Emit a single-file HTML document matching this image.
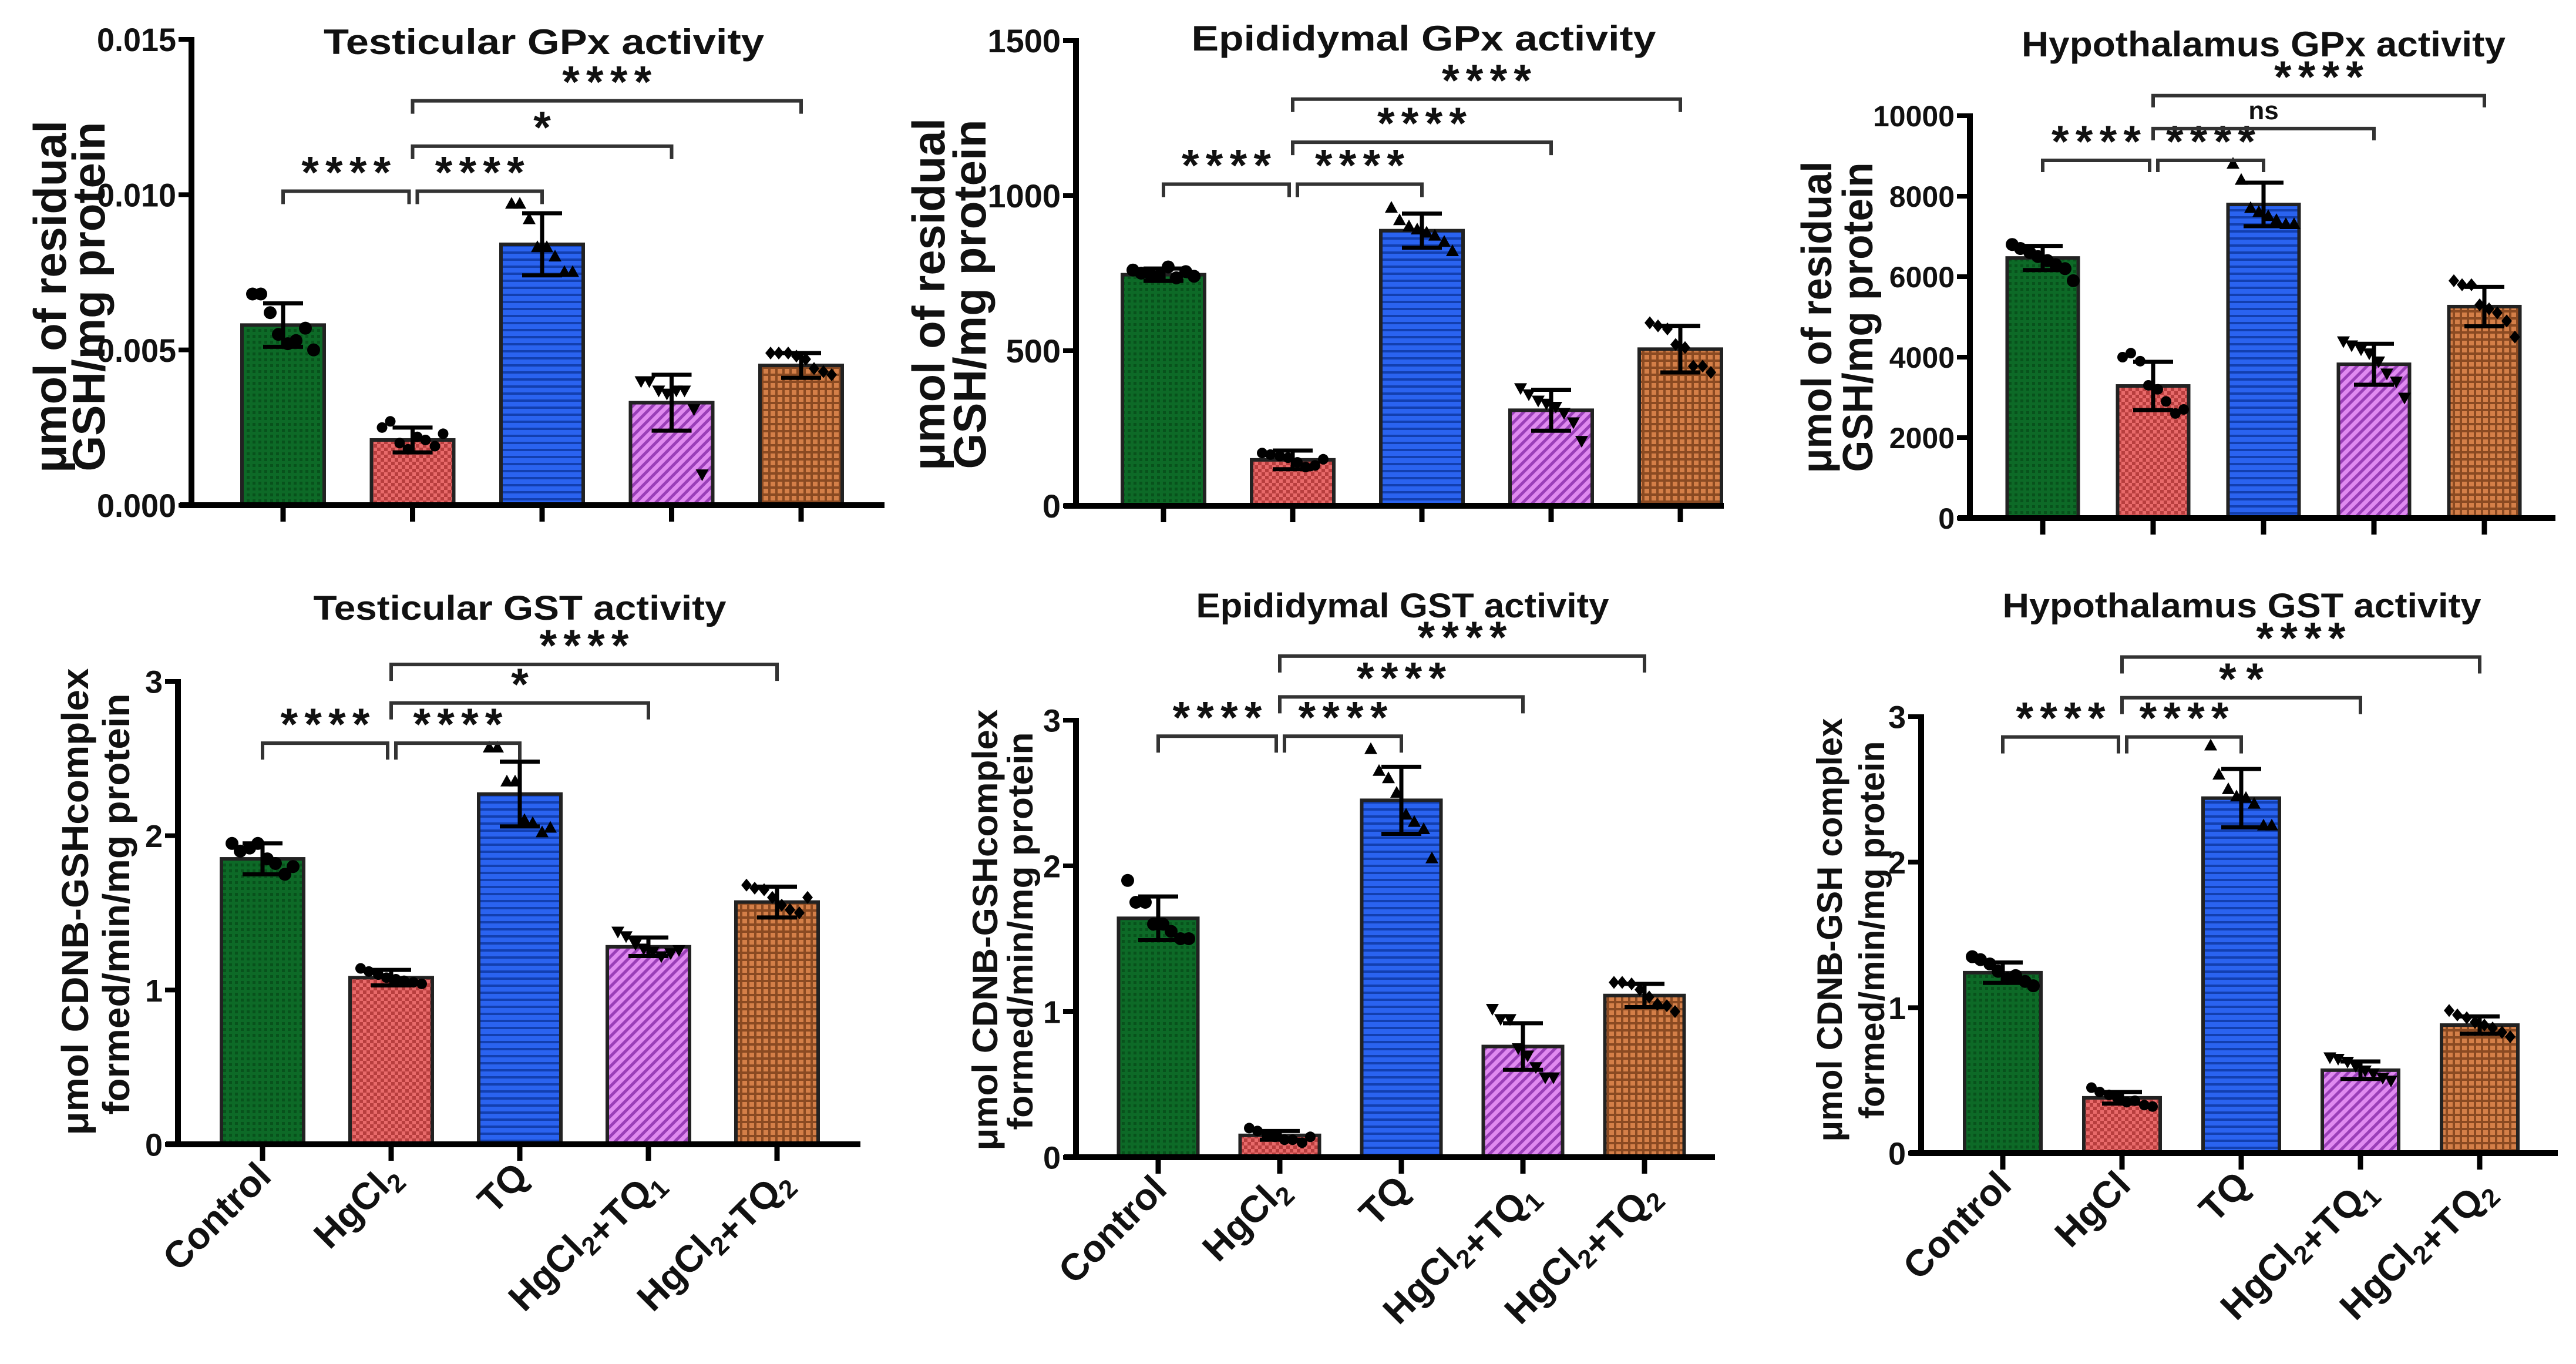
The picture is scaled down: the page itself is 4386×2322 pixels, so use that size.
<!DOCTYPE html>
<html><head><meta charset="utf-8">
<style>
html,body{margin:0;padding:0;background:#fff;}
svg{display:block;}
text{font-family:"Liberation Sans",sans-serif;font-weight:bold;fill:#111;}
</style></head>
<body>
<svg id="fig" width="4386" height="2322" viewBox="0 0 4386 2322" xmlns="http://www.w3.org/2000/svg">
<defs>
<pattern id="pg" width="10" height="10" patternUnits="userSpaceOnUse"><rect width="10" height="10" fill="#0d6a27"/><rect width="5" height="5" fill="#08521c"/></pattern>
<pattern id="pr" width="12" height="12" patternUnits="userSpaceOnUse"><rect width="12" height="12" fill="#e86a6a"/><rect width="6" height="6" fill="#b83e3e"/><rect x="6" y="6" width="6" height="6" fill="#b83e3e"/></pattern>
<pattern id="pb" width="14" height="12" patternUnits="userSpaceOnUse"><rect width="14" height="12" fill="#2a63f0"/><rect y="8" width="14" height="4" fill="#123fb0"/></pattern>
<pattern id="pp" width="12" height="12" patternUnits="userSpaceOnUse" patternTransform="rotate(45)"><rect width="12" height="12" fill="#e08af0"/><rect width="5" height="12" fill="#9a3fb8"/></pattern>
<pattern id="po" width="12" height="12" patternUnits="userSpaceOnUse"><rect width="12" height="12" fill="#d47f48"/><rect width="12" height="4" fill="#8a4a22"/><rect width="4" height="12" fill="#8a4a22"/></pattern>
</defs>
</svg>
<script>
// ---- data ----
const groups = ["Control","HgCl2","TQ","HgCl2+TQ1","HgCl2+TQ2"];
const tgpxMeans = [0.0058,0.0021,0.0084,0.0033,0.0045];
const tgpxSD = [0.0007,0.0004,0.0010,0.0009,0.0004];
const tgpxPts = [[0.0068,0.0068,0.0062,0.0055,0.0052,0.0053,0.0057,0.0050],[0.0025,0.0027,0.0020,0.0018,0.0022,0.0021,0.0019,0.0023],[0.0097,0.0097,0.0092,0.0083,0.0083,0.0080,0.0075,0.0075],[0.0040,0.0040,0.0037,0.0036,0.0037,0.0037,0.0031,0.0010],[0.0049,0.0049,0.0049,0.0048,0.0047,0.0044,0.0043,0.0042]];
const tgpxTicks = [0,0.005,0.010,0.015];
const tgpxTickLabels = ["0.000","0.005","0.010","0.015"];
const tgpxBrackets = [0.01011,0.01156,0.01302];
const tgpxSig = ["****","****","*","****"];

const egpxMeans = [745,148,887,308,505];
const egpxSD = [20,30,55,66,75];
const egpxPts = [[760,750,745,740,770,735,755,740],[170,165,160,155,140,125,130,150],[960,920,900,890,880,870,850,820],[380,360,340,330,320,300,270,210],[590,580,570,520,510,450,450,430]];
const egpxTicks = [0,500,1000,1500];
const egpxTickLabels = ["0","500","1000","1500"];
const egpxBrackets = [1037,1172,1311];
const egpxSig = ["****","****","****","****"];

const hgpxMeans = [6465,3284,7795,3823,5256];
const hgpxSD = [300,600,540,510,490];
const hgpxPts = [[6800,6700,6600,6500,6400,6300,6200,5900],[4000,4100,3900,3300,3200,2900,2600,2700],[8800,8400,7700,7600,7500,7400,7300,7300],[4400,4300,4200,4100,3900,3600,3400,3000],[5900,5800,5800,5300,5200,5100,4900,4500]];
const hgpxTicks = [0,2000,4000,6000,8000,10000];
const hgpxTickLabels = ["0","2000","4000","6000","8000","10000"];
const hgpxBrackets = [8891,9680,10500];
const hgpxSig = ["****","****","ns","****"];

const tgstMeans = [1.85,1.08,2.27,1.28,1.57];
const tgstSD = [0.10,0.05,0.21,0.06,0.10];
const tgstPts = [[1.95,1.90,1.92,1.95,1.85,1.82,1.75,1.80],[1.14,1.12,1.10,1.08,1.07,1.06,1.05,1.04],[2.57,2.57,2.35,2.35,2.10,2.08,2.02,2.05],[1.38,1.35,1.30,1.27,1.25,1.22,1.24,1.26],[1.68,1.66,1.65,1.60,1.55,1.52,1.50,1.60]];
const tgstTicks = [0,1,2,3];
const tgstTickLabels = ["0","1","2","3"];
const tgstBrackets = [2.60,2.86,3.11];
const tgstSig = ["****","****","*","****"];

const egstMeans = [1.64,0.15,2.45,0.76,1.11];
const egstSD = [0.15,0.03,0.23,0.16,0.08];
const egstPts = [[1.90,1.75,1.75,1.60,1.60,1.55,1.50,1.50],[0.20,0.18,0.15,0.14,0.12,0.12,0.10,0.14],[2.80,2.65,2.60,2.50,2.35,2.30,2.25,2.05],[1.02,0.95,0.95,0.75,0.70,0.62,0.55,0.55],[1.20,1.20,1.19,1.15,1.10,1.05,1.04,1.00]];
const egstTicks = [0,1,2,3];
const egstTickLabels = ["0","1","2","3"];
const egstBrackets = [2.89,3.16,3.44];
const egstSig = ["****","****","****","****"];

const hgstMeans = [1.24,0.38,2.44,0.57,0.88];
const hgstSD = [0.07,0.04,0.20,0.06,0.06];
const hgstPts = [[1.35,1.33,1.30,1.25,1.20,1.22,1.18,1.15],[0.45,0.42,0.40,0.38,0.35,0.36,0.33,0.32],[2.80,2.60,2.50,2.45,2.44,2.40,2.25,2.25],[0.66,0.65,0.63,0.60,0.57,0.55,0.52,0.50],[0.98,0.95,0.93,0.90,0.88,0.86,0.83,0.80]];
const hgstTicks = [0,1,2,3];
const hgstTickLabels = ["0","1","2","3"];
const hgstBrackets = [2.86,3.13,3.41];
const hgstSig = ["****","****","**","****"];

// ---- layout ----
const panels = [
 {id:"testicular-gpx",means:tgpxMeans,sd:tgpxSD,pts:tgpxPts,ticks:tgpxTicks,tl:tgpxTickLabels,br:tgpxBrackets,sig:tgpxSig,max:0.015,ax:326,yb:860,yt:67,c0:482,sp:220.5,bw:140,xEnd:1506,
  title:"Testicular GPx activity",tx:926,ty:92,tw:750,tfs:60,tickFs:56,tickW:135,
  yl:[["μmol of residual",112,505,600],["GSH/mg protein",178,505,595]],yfs:78,xlab:false,drop:22},
 {id:"epididymal-gpx",means:egpxMeans,sd:egpxSD,pts:egpxPts,ticks:egpxTicks,tl:egpxTickLabels,br:egpxBrackets,sig:egpxSig,max:1500,ax:1832,yb:861,yt:69,c0:1981,sp:220,bw:140,xEnd:2935,
  title:"Epididymal GPx activity",tx:2424,ty:86,tw:791,tfs:60,tickFs:56,tickW:0,
  yl:[["μmol of residual",1608,501,600],["GSH/mg protein",1678,501,595]],yfs:78,xlab:false,drop:22},
 {id:"hypothalamus-gpx",means:hgpxMeans,sd:hgpxSD,pts:hgpxPts,ticks:hgpxTicks,tl:hgpxTickLabels,br:hgpxBrackets,sig:hgpxSig,max:10000,ax:3354,yb:882,yt:197,c0:3478,sp:188,bw:121,xEnd:4351,
  title:"Hypothalamus GPx activity",tx:3854,ty:96,tw:824,tfs:60,tickFs:50,tickW:0,
  yl:[["μmol of residual",3118,540,531],["GSH/mg protein",3188,540,527]],yfs:72,xlab:false,drop:20},
 {id:"testicular-gst",means:tgstMeans,sd:tgstSD,pts:tgstPts,ticks:tgstTicks,tl:tgstTickLabels,br:tgstBrackets,sig:tgstSig,max:3,ax:303,yb:1948,yt:1160,c0:447,sp:219,bw:140,xEnd:1465,
  title:"Testicular GST activity",tx:885,ty:1055,tw:703,tfs:58,tickFs:54,tickW:0,
  yl:[["μmol CDNB-GSHcomplex",150,1535,795],["formed/min/mg protein",220,1539,717]],yfs:64,xlab:true,hg:"HgCl2",drop:28},
 {id:"epididymal-gst",means:egstMeans,sd:egstSD,pts:egstPts,ticks:egstTicks,tl:egstTickLabels,br:egstBrackets,sig:egstSig,max:3,ax:1832,yb:1970,yt:1226,c0:1972,sp:207,bw:135,xEnd:2920,
  title:"Epididymal GST activity",tx:2388,ty:1051,tw:703,tfs:58,tickFs:54,tickW:0,
  yl:[["μmol CDNB-GSHcomplex",1698,1583,751],["formed/min/mg protein",1758,1585,677]],yfs:60,xlab:true,hg:"HgCl2",drop:28},
 {id:"hypothalamus-gst",means:hgstMeans,sd:hgstSD,pts:hgstPts,ticks:hgstTicks,tl:hgstTickLabels,br:hgstBrackets,sig:hgstSig,max:3,ax:3271,yb:1963,yt:1220,c0:3410,sp:203,bw:130,xEnd:4355,
  title:"Hypothalamus GST activity",tx:3817,ty:1051,tw:815,tfs:58,tickFs:54,tickW:0,
  yl:[["μmol CDNB-GSH complex",3136,1583,721],["formed/min/mg protein",3208,1583,643]],yfs:60,xlab:true,hg:"HgCl",drop:28}
];
const fills = ["url(#pg)","url(#pr)","url(#pb)","url(#pp)","url(#po)"];
const markers = ["circle","circle","tri-up","tri-down","diamond"];
const jit = [-52,-38,-22,-8,8,22,38,52];
const NS = "http://www.w3.org/2000/svg";
const svg = document.getElementById("fig");
function mk(tag, attrs, parent){
  const e = document.createElementNS(NS, tag);
  for (const k in attrs) e.setAttribute(k, attrs[k]);
  (parent||svg).appendChild(e);
  return e;
}
function slug(s){return s.toLowerCase().replace(/[^a-z0-9]+/g,'-').replace(/-+$/,'');}

panels.forEach(p => {
  const g = mk("g", {});
  
  
  const y = v => p.yb - (v / p.max) * (p.yb - p.yt);
  const x = i => p.c0 + i * p.sp;

  const t = mk("text", {x:p.tx, y:p.ty, "text-anchor":"middle", "font-size":p.tfs, textLength:p.tw, lengthAdjust:"spacingAndGlyphs"}, g);
  t.textContent = p.title;
  
  

  p.yl.forEach((l, li) => {
    const yt = mk("text", {x:l[1], y:l[2], transform:`rotate(-90 ${l[1]} ${l[2]})`, "text-anchor":"middle", "font-size":p.yfs, textLength:l[3], lengthAdjust:"spacingAndGlyphs"}, g);
    yt.textContent = l[0];
    
    
  });

  p.means.forEach((m, i) => {
    const r = mk("rect", {x:x(i)-p.bw/2, y:y(m), width:p.bw, height:p.yb-y(m), fill:fills[i], stroke:"#222", "stroke-width":6}, g);
    
    
  });

  p.pts.forEach((arr, i) => {
    arr.forEach((v, k) => {
      const cx = x(i) + jit[k % jit.length], cy = y(v);
      let e;
      if (markers[i] === "circle") e = mk("circle", {cx:cx, cy:cy, r:i===1?9:11, fill:"#000"}, g);
      else if (markers[i] === "tri-up") e = mk("polygon", {points:`${cx},${cy-12} ${cx-11},${cy+8} ${cx+11},${cy+8}`, fill:"#000"}, g);
      else if (markers[i] === "tri-down") e = mk("polygon", {points:`${cx},${cy+12} ${cx-11},${cy-8} ${cx+11},${cy-8}`, fill:"#000"}, g);
      else e = mk("polygon", {points:`${cx},${cy-11} ${cx+9},${cy} ${cx},${cy+11} ${cx-9},${cy}`, fill:"#000"}, g);
      
      
    });
  });

  p.means.forEach((m, i) => {
    const cx = x(i), hi = y(m + p.sd[i]), lo = y(m - p.sd[i]);
    const eb = mk("path", {d:`M${cx},${lo} L${cx},${hi} M${cx-34},${hi} L${cx+34},${hi} M${cx-34},${lo} L${cx+34},${lo}`, stroke:"#000", "stroke-width":7, fill:"none"}, g);
    
    
  });

  const ya = mk("line", {x1:p.ax, y1:y(p.max)-4, x2:p.ax, y2:p.yb+5, stroke:"#000", "stroke-width":10}, g);
  
  
  const xa = mk("line", {x1:p.ax-20, y1:p.yb, x2:p.xEnd, y2:p.yb, stroke:"#000", "stroke-width":10}, g);
  
  

  p.ticks.forEach((tv, k) => {
    const ty = y(tv);
    const tk = mk("line", {x1:p.ax-22, y1:ty, x2:p.ax, y2:ty, stroke:"#000", "stroke-width":8}, g);
    
    
    const attrs = {x:p.ax-26, y:ty + p.tickFs*0.36, "text-anchor":"end", "font-size":p.tickFs};
    if (p.tickW) { attrs.textLength = p.tickW; attrs.lengthAdjust = "spacingAndGlyphs"; }
    const tl = mk("text", attrs, g);
    tl.textContent = p.tl[k];
    
    
  });

  groups.forEach((gn, i) => {
    const xt = mk("line", {x1:x(i), y1:p.yb, x2:x(i), y2:p.yb+28, stroke:"#000", "stroke-width":9}, g);
    
    
  });

  if (p.xlab) {
    const labs = ["Control", p.hg, "TQ", "HgCl2+TQ1", "HgCl2+TQ2"];
    labs.forEach((s, i) => {
      const lx = x(i) + 18, ly = p.yb + 58;
      const te = mk("text", {x:lx, y:ly, "text-anchor":"end", "font-size":64, transform:`rotate(-45 ${lx} ${ly})`}, g);
      
      
      const parts = s.match(/HgCl2|HgCl|TQ1|TQ2|Control|TQ|\+/g);
      parts.forEach(pt => {
        if (pt === "HgCl2") { const a = mk("tspan", {}, te); a.textContent = "HgCl"; const b = mk("tspan", {"font-size":44, dy:14}, te); b.textContent = "2"; const c = mk("tspan", {dy:-14}, te); c.textContent = ""; }
        else if (pt === "TQ1" || pt === "TQ2") { const a = mk("tspan", {}, te); a.textContent = "TQ"; const b = mk("tspan", {"font-size":44, dy:14}, te); b.textContent = pt.slice(2); }
        else { const a = mk("tspan", {}, te); a.textContent = pt; }
      });
    });
  }

  const drop = p.drop;
  const spans = [[x(0), x(1)-6, p.br[0]], [x(1)+8, x(2), p.br[0]], [x(1), x(3), p.br[1]], [x(1), x(4), p.br[2]]];
  spans.forEach((s, k) => {
    const by = y(s[2]);
    const b = mk("path", {d:`M${s[0]},${by+drop} L${s[0]},${by} L${s[1]},${by} L${s[1]},${by+drop}`, stroke:"#333", "stroke-width":6, fill:"none"}, g);
    
    
    const lab = p.sig[k];
    const isNs = lab === "ns";
    const attrs = {x:(s[0]+s[1])/2, y:by - (isNs?16:6), "text-anchor":"middle", "font-size":isNs?44:76};
    if (!isNs) { attrs.textLength = lab.length*38; attrs.lengthAdjust = "spacing"; }
    const st = mk("text", attrs, g);
    st.textContent = lab;
    
    
  });
});
</script>
</body></html>
